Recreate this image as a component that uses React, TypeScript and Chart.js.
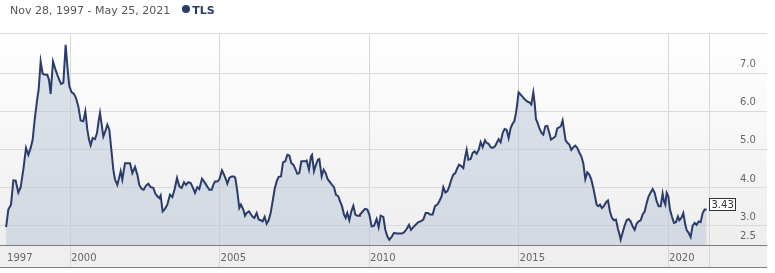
import React, { useEffect, useRef } from "react";
import { Chart, registerables } from "chart.js";

Chart.register(...registerables);

const HEADER_RANGE = "Nov 28, 1997 - May 25, 2021";
const SERIES_NAME = "TLS";
const NAVY = "#2a3c6c";

const X_MIN = 1997.656;
const X_MAX = 2021.369;
const Y_MIN = 2.5;
const Y_MAX = 8.07;

const YEAR_TICKS = [1997.86, 2000, 2005, 2010, 2015, 2020];
const YEAR_LABELS = ["1997", "2000", "2005", "2010", "2015", "2020"];
const PRICE_TICKS = [2.5, 3, 4, 5, 6, 7];
const PRICE_LABELS = ["2.5", "3.0", "4.0", "5.0", "6.0", "7.0"];

// 1997 - 2003
const dates1 = [
  1997.86, 1997.935, 1998.024, 1998.102, 1998.18, 1998.269, 1998.347, 1998.436, 1998.526, 1998.604,
  1998.682, 1998.749, 1998.815, 1998.905, 1998.949, 1999.016, 1999.083, 1999.161, 1999.239, 1999.295,
  1999.35, 1999.429, 1999.507, 1999.573, 1999.64, 1999.696, 1999.774, 1999.852, 1999.919, 1999.975,
  2000.053, 2000.131, 2000.198, 2000.276, 2000.354, 2000.443, 2000.51, 2000.577, 2000.633, 2000.688,
  2000.755, 2000.833, 2000.9, 2000.956, 2001.0, 2001.056, 2001.112, 2001.179, 2001.246, 2001.313,
  2001.391, 2001.446, 2001.502, 2001.58, 2001.647, 2001.692, 2001.747, 2001.837, 2001.915, 2002.004,
  2002.082, 2002.171, 2002.249, 2002.316, 2002.394, 2002.461, 2002.539, 2002.617, 2002.695, 2002.784,
  2002.851, 2002.918, 2002.985, 2003.029, 2003.096, 2003.174, 2003.252, 2003.341, 2003.42, 2003.498,
  2003.576, 2003.654,
];
const prices1 = [
  2.97, 3.43, 3.56, 4.2, 4.19, 3.88, 4.02, 4.48, 5.05, 4.87,
  5.05, 5.27, 5.79, 6.36, 6.58, 7.32, 7.0, 6.97, 6.97, 6.84,
  6.47, 7.32, 7.12, 6.97, 6.84, 6.73, 6.76, 7.76, 7.1, 6.67,
  6.51, 6.47, 6.36, 6.14, 5.77, 5.75, 6.01, 5.53, 5.27, 5.12,
  5.31, 5.28, 5.44, 5.77, 5.97, 5.66, 5.35, 5.49, 5.66, 5.53,
  4.92, 4.48, 4.22, 4.08, 4.29, 4.44, 4.22, 4.65, 4.65, 4.65,
  4.39, 4.55, 4.35, 4.08, 3.97, 3.95, 4.06, 4.11, 4.02, 4.0,
  3.85, 3.78, 3.73, 3.8, 3.38, 3.45, 3.56, 3.82, 3.76, 3.97,
  4.26, 4.04,
];

// 2003 - 2009
const dates2 = [
  2003.732, 2003.81, 2003.877, 2003.955, 2004.033, 2004.1, 2004.178, 2004.256, 2004.323, 2004.412,
  2004.479, 2004.568, 2004.657, 2004.735, 2004.791, 2004.847, 2004.925, 2004.991, 2005.081, 2005.148,
  2005.214, 2005.259, 2005.326, 2005.404, 2005.482, 2005.527, 2005.593, 2005.66, 2005.716, 2005.794,
  2005.85, 2005.906, 2005.984, 2006.051, 2006.106, 2006.162, 2006.24, 2006.307, 2006.374, 2006.441,
  2006.508, 2006.574, 2006.641, 2006.708, 2006.775, 2006.842, 2006.909, 2006.976, 2007.054, 2007.121,
  2007.199, 2007.266, 2007.333, 2007.399, 2007.466, 2007.533, 2007.6, 2007.667, 2007.734, 2007.801,
  2007.868, 2007.912, 2007.99, 2008.057, 2008.091, 2008.157, 2008.224, 2008.291, 2008.336, 2008.414,
  2008.481, 2008.548, 2008.615, 2008.693, 2008.759, 2008.826, 2008.893, 2008.971, 2009.027, 2009.094,
  2009.161, 2009.217, 2009.272, 2009.339, 2009.406, 2009.473, 2009.54, 2009.607, 2009.674,
];
const prices2 = [
  4.0, 4.15, 4.08, 4.15, 4.13, 4.02, 3.87, 4.02, 3.97, 4.24,
  4.17, 4.06, 3.95, 3.95, 4.08, 4.17, 4.17, 4.22, 4.46, 4.35,
  4.22, 4.11, 4.26, 4.3, 4.3, 4.26, 3.91, 3.47, 3.56, 3.43,
  3.27, 3.34, 3.38, 3.3, 3.24, 3.21, 3.34, 3.17, 3.15, 3.12,
  3.24, 3.06, 3.15, 3.34, 3.65, 3.97, 4.17, 4.29, 4.3, 4.67,
  4.7, 4.87, 4.85, 4.65, 4.61, 4.5, 4.37, 4.39, 4.7, 4.7,
  4.7, 4.72, 4.48, 4.83, 4.87, 4.44, 4.61, 4.74, 4.76, 4.3,
  4.48, 4.39, 4.23, 4.15, 4.08, 4.02, 3.82, 3.78, 3.65, 3.52,
  3.3, 3.21, 3.34, 3.15, 3.38, 3.53, 3.3, 3.27, 3.27,
];

// 2009 - 2015
const dates3 = [
  2009.696, 2009.785, 2009.863, 2009.941, 2010.008, 2010.086, 2010.164, 2010.253, 2010.32, 2010.387,
  2010.476, 2010.543, 2010.61, 2010.677, 2010.755, 2010.833, 2010.922, 2011.011, 2011.09, 2011.168,
  2011.257, 2011.335, 2011.402, 2011.48, 2011.558, 2011.647, 2011.725, 2011.814, 2011.892, 2011.97,
  2012.037, 2012.126, 2012.204, 2012.282, 2012.349, 2012.427, 2012.483, 2012.55, 2012.617, 2012.684,
  2012.751, 2012.817, 2012.884, 2012.951, 2013.007, 2013.074, 2013.152, 2013.208, 2013.263, 2013.319,
  2013.397, 2013.464, 2013.531, 2013.598, 2013.665, 2013.732, 2013.798, 2013.877, 2013.932, 2013.999,
  2014.066, 2014.133, 2014.211, 2014.267, 2014.334, 2014.4, 2014.467, 2014.534, 2014.601, 2014.668,
  2014.735, 2014.802, 2014.858, 2014.913, 2014.958, 2015.002, 2015.069, 2015.136, 2015.214, 2015.292,
  2015.359, 2015.426, 2015.493, 2015.538, 2015.582, 2015.638, 2015.694,
];
const prices3 = [
  3.3, 3.38, 3.45, 3.43, 3.3, 2.99, 3.0, 3.18, 2.97, 3.27,
  3.24, 2.9, 2.73, 2.64, 2.71, 2.82, 2.8, 2.8, 2.8, 2.83,
  2.92, 3.03, 2.9, 2.97, 3.03, 3.1, 3.12, 3.17, 3.34, 3.34,
  3.3, 3.3, 3.52, 3.56, 3.65, 3.78, 4.02, 3.88, 3.91, 4.04,
  4.22, 4.35, 4.39, 4.52, 4.61, 4.58, 4.52, 4.79, 5.0, 4.74,
  4.76, 4.92, 4.96, 4.9, 5.0, 5.2, 5.07, 5.25, 5.18, 5.16,
  5.07, 5.05, 5.09, 5.18, 5.28, 5.2, 5.44, 5.55, 5.53, 5.31,
  5.57, 5.69, 5.75, 5.97, 6.23, 6.51, 6.45, 6.39, 6.32, 6.27,
  6.25, 6.19, 6.51, 6.23, 5.81, 5.7, 5.57,
];

// 2015 - 2021
const dates4 = [
  2015.772, 2015.827, 2015.894, 2015.961, 2016.028, 2016.084, 2016.162, 2016.229, 2016.296, 2016.363,
  2016.418, 2016.474, 2016.519, 2016.574, 2016.641, 2016.697, 2016.764, 2016.831, 2016.898, 2016.965,
  2017.031, 2017.098, 2017.165, 2017.232, 2017.299, 2017.366, 2017.433, 2017.5, 2017.555, 2017.611,
  2017.667, 2017.723, 2017.79, 2017.856, 2017.923, 2017.99, 2018.057, 2018.124, 2018.191, 2018.258,
  2018.325, 2018.369, 2018.414, 2018.481, 2018.548, 2018.614, 2018.681, 2018.748, 2018.815, 2018.882,
  2018.949, 2019.016, 2019.083, 2019.15, 2019.216, 2019.283, 2019.35, 2019.417, 2019.484, 2019.551,
  2019.618, 2019.685, 2019.752, 2019.818, 2019.863, 2019.908, 2019.952, 2020.008, 2020.064, 2020.131,
  2020.197, 2020.264, 2020.331, 2020.376, 2020.443, 2020.51, 2020.577, 2020.621, 2020.688, 2020.755,
  2020.822, 2020.889, 2020.956, 2021.022, 2021.089, 2021.156, 2021.223, 2021.29,
];
const prices4 = [
  5.44, 5.4, 5.62, 5.63, 5.44, 5.27, 5.31, 5.35, 5.57, 5.59,
  5.63, 5.77, 5.53, 5.25, 5.18, 5.14, 5.0, 5.07, 5.11, 5.05,
  4.93, 4.83, 4.65, 4.23, 4.41, 4.35, 4.22, 4.0, 3.78, 3.56,
  3.52, 3.56, 3.47, 3.53, 3.62, 3.67, 3.38, 3.21, 3.15, 3.17,
  2.92, 2.8, 2.64, 2.83, 3.01, 3.15, 3.18, 3.12, 2.99, 2.9,
  3.06, 3.12, 3.15, 3.3, 3.38, 3.6, 3.78, 3.88, 3.97, 3.87,
  3.65, 3.52, 3.52, 3.85, 3.65, 3.56, 3.87, 3.78, 3.43, 3.24,
  3.08, 3.1, 3.25, 3.15, 3.21, 3.34, 3.03, 2.89, 2.82, 2.71,
  3.01, 3.08, 3.03, 3.12, 3.1, 3.34, 3.43, 3.43,
];

const dates = [...dates1, ...dates2, ...dates3, ...dates4];
const prices = [...prices1, ...prices2, ...prices3, ...prices4];

const FONT = '"DejaVu Sans", Verdana, sans-serif';

const framePlugin = {
  id: "frame",
  beforeDraw(chart: any) {
    const { ctx, chartArea } = chart;
    const xs = chart.scales.x;
    const ys = chart.scales.y;
    const right = ys.right;
    ctx.save();
    const g = ctx.createLinearGradient(0, chartArea.top, 0, chartArea.bottom);
    g.addColorStop(0, "#ffffff");
    g.addColorStop(1, "#eeeeee");
    ctx.fillStyle = g;
    ctx.fillRect(chartArea.left, chartArea.top, right - chartArea.left, chartArea.bottom - chartArea.top);
    ctx.fillStyle = "#efefef";
    ctx.fillRect(xs.left, xs.top, right - xs.left, xs.bottom - xs.top);
    ctx.restore();
  },
  afterDraw(chart: any) {
    const { ctx } = chart;
    const xs = chart.scales.x;
    const ys = chart.scales.y;
    const right = ys.right;
    ctx.save();
    ctx.strokeStyle = "#7d7d7d";
    ctx.lineWidth = 1;
    ctx.beginPath();
    const y1 = Math.round(xs.top) + 0.5;
    const y2 = Math.round(xs.bottom) - 0.5;
    ctx.moveTo(xs.left, y1);
    ctx.lineTo(right, y1);
    ctx.moveTo(xs.left, y2);
    ctx.lineTo(right, y2);
    ctx.stroke();
    ctx.restore();
  },
};

const lastLabelPlugin = {
  id: "lastLabel",
  afterDatasetsDraw(chart: any) {
    const { ctx } = chart;
    const meta = chart.getDatasetMeta(0);
    const pts = meta.data;
    if (!pts.length) return;
    const pt = pts[pts.length - 1];
    const text = prices[prices.length - 1].toFixed(2);
    ctx.save();
    ctx.font = `10px ${FONT}`;
    const w = Math.round(ctx.measureText(text).width + 4);
    const h = 12;
    const x0 = Math.round(pt.x) + 2.5;
    const yb = Math.round(pt.y) + 0.5;
    ctx.fillStyle = "#ffffff";
    ctx.fillRect(x0, yb - h, w, h);
    ctx.strokeStyle = "#333333";
    ctx.lineWidth = 1;
    ctx.strokeRect(x0, yb - h, w, h);
    ctx.fillStyle = "#333333";
    ctx.textBaseline = "middle";
    ctx.textAlign = "left";
    ctx.fillText(text, x0 + 2, yb - h / 2 + 0.5);
    ctx.restore();
  },
};

export default function App() {
  const canvasRef = useRef<HTMLCanvasElement | null>(null);

  useEffect(() => {
    if (!canvasRef.current) return;
    const chart = new Chart(canvasRef.current, {
      type: "line",
      data: {
        datasets: [
          {
            label: SERIES_NAME,
            data: dates.map((d, i) => ({ x: d, y: prices[i] })),
            borderColor: NAVY,
            borderWidth: 2,
            backgroundColor: "rgba(185,197,213,0.5)",
            fill: "start",
            pointRadius: 0,
            tension: 0,
          },
        ],
      },
      options: {
        animation: false,
        responsive: false,
        devicePixelRatio: 1,
        parsing: false as any,
        layout: { padding: { left: 0, top: 33, right: 8, bottom: 5 } },
        plugins: {
          legend: { display: false },
          tooltip: { enabled: false },
          title: { display: false },
        },
        scales: {
          x: {
            type: "linear",
            min: X_MIN,
            max: X_MAX,
            afterBuildTicks: (s: any) => {
              s.ticks = [...YEAR_TICKS.map((v) => ({ value: v })), { value: X_MAX }];
            },
            afterFit: (s: any) => {
              s.height = 23;
              s.paddingLeft = 0;
              s.paddingRight = 0;
            },
            ticks: {
              autoSkip: false,
              maxRotation: 0,
              minRotation: 0,
              align: "start",
              labelOffset: 1,
              padding: -16,
              color: "#666666",
              font: { family: FONT, size: 10 },
              callback: (v: any) => {
                const i = YEAR_TICKS.indexOf(Number(v));
                return i >= 0 ? YEAR_LABELS[i] : "";
              },
            },
            grid: {
              color: (c: any) =>
                c.tick && c.tick.value === YEAR_TICKS[0] ? "rgba(0,0,0,0)" : "#d6d6d6",
              tickLength: 23,
              drawTicks: true,
            },
            border: { display: false },
          },
          y: {
            type: "linear",
            position: "right",
            min: Y_MIN,
            max: Y_MAX,
            afterBuildTicks: (s: any) => {
              s.ticks = [...PRICE_TICKS.map((v) => ({ value: v })), { value: Y_MAX }];
            },
            afterFit: (s: any) => {
              s.width = 58;
              s.paddingTop = 0;
              s.paddingBottom = 0;
            },
            ticks: {
              autoSkip: false,
              padding: -27,
              labelOffset: -9,
              crossAlign: "near",
              color: "#666666",
              font: { family: FONT, size: 10 },
              callback: (v: any) => {
                const i = PRICE_TICKS.indexOf(Number(v));
                return i >= 0 ? PRICE_LABELS[i] : "";
              },
            },
            grid: { color: "#dadada", tickLength: 58, drawTicks: true },
            border: { display: false },
          },
        },
      },
      plugins: [framePlugin, lastLabelPlugin],
    } as any);
    return () => chart.destroy();
  }, []);

  return (
    <div style={{ position: "absolute", left: 0, top: 0, width: 775, height: 273, background: "#ffffff", overflow: "hidden" }}>
      <canvas ref={canvasRef} width={775} height={273} style={{ position: "absolute", left: 0, top: 0, width: 775, height: 273 }} />
      <div
        style={{
          position: "absolute",
          left: 10,
          top: 4,
          fontFamily: FONT,
          fontSize: 11,
          lineHeight: "13px",
          color: "#555555",
          whiteSpace: "nowrap",
        }}
      >
        {HEADER_RANGE}
        <span
          style={{
            display: "inline-block",
            width: 8,
            height: 8,
            borderRadius: "50%",
            background: NAVY,
            marginLeft: 12,
            marginRight: 2,
            position: "relative",
            top: -1,
          }}
        />
        <b style={{ color: NAVY }}>{SERIES_NAME}</b>
      </div>
    </div>
  );
}
